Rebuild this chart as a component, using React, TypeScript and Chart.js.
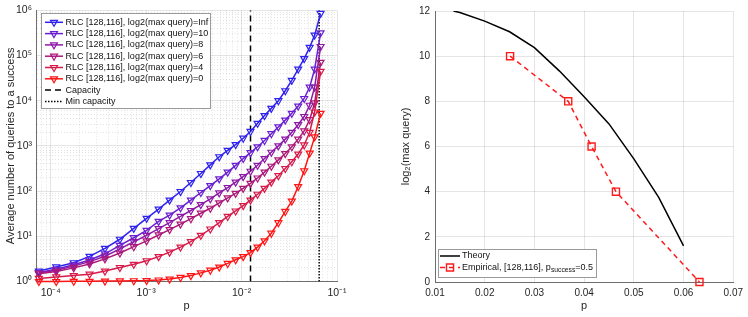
import React, { useEffect, useRef } from 'react';
import { Chart, registerables } from 'chart.js';

Chart.register(...registerables);

const FONT = '"Liberation Sans", Arial, Helvetica, sans-serif';
const TXT = '#262626';
Chart.defaults.font.family = FONT;

// ---------- Left panel data ----------
const P_VALUES = [
  7.5e-5, 1.14e-4, 1.74e-4, 2.55e-4, 3.7e-4, 5.3e-4, 7.41e-4, 1.01e-3, 1.35e-3, 1.76e-3,
  2.29e-3, 2.94e-3, 3.74e-3, 4.7e-3, 5.83e-3, 7.15e-3, 8.66e-3, 1.04e-2, 1.24e-2, 1.47e-2,
  1.74e-2, 2.05e-2, 2.43e-2, 2.87e-2, 3.36e-2, 3.92e-2, 4.53e-2, 5.17e-2, 5.83e-2, 6.73e-2,
];
const QUERY_LABELS = ['Inf', '10', '8', '6', '4', '0'];
const QUERIES_INF = [1.7, 2.1, 2.6, 3.6, 5.4, 8.6, 15, 25, 40, 63, 98, 155, 245, 380, 575, 795, 1070, 1480, 2090, 3160, 4680, 6760, 10000, 16600, 28200, 50100, 85100, 151000, 282000, 851000];
const QUERIES_10 = [1.58, 1.86, 2.34, 3.0, 4.1, 6.3, 9.3, 13.5, 21.4, 29.5, 42.7, 63, 93, 132, 186, 263, 372, 525, 708, 955, 1320, 1860, 2630, 3720, 5250, 7590, 11200, 20000, 50100, 316000];
const QUERIES_8 = [1.55, 1.78, 2.19, 2.75, 3.63, 5.25, 7.59, 10.5, 14.8, 20, 27.5, 37.2, 50.1, 67.6, 91.2, 120, 158, 209, 275, 372, 525, 724, 1000, 1410, 2000, 2950, 4470, 7940, 20000, 158000];
const QUERIES_6 = [1.48, 1.66, 2.0, 2.45, 3.16, 4.27, 5.89, 7.94, 10.7, 14.1, 18.6, 24.5, 32.4, 41.7, 55, 70.8, 89.1, 115, 148, 195, 263, 355, 490, 676, 955, 1410, 2140, 3800, 8910, 70800];
const QUERIES_4 = [1.17, 1.26, 1.35, 1.45, 1.7, 2.04, 2.4, 2.88, 3.55, 4.47, 5.75, 7.59, 10.5, 14.5, 20, 27.5, 36.3, 47.9, 63.1, 85.1, 115, 158, 219, 316, 447, 661, 1050, 2000, 5620, 44700];
const QUERIES_0 = [1.0, 1.0, 1.01, 1.01, 1.02, 1.03, 1.04, 1.05, 1.08, 1.13, 1.23, 1.35, 1.55, 1.78, 2.09, 2.51, 3.02, 3.55, 4.37, 5.75, 7.94, 11.7, 20, 35.5, 60.3, 126, 282, 692, 1580, 5250];
const SERIES_VALUES = [QUERIES_INF, QUERIES_10, QUERIES_8, QUERIES_6, QUERIES_4, QUERIES_0];
const SERIES_COLORS = ['#2f22ee', '#6a1fd0', '#8d1aa6', '#ac1878', '#d81a4a', '#ff1414'];
const CAPACITY_P = 0.0124;
const MIN_CAPACITY_P = 0.065;
const X_MIN = 7.5e-5;
const X_MAX = 0.1;
const Y_MIN = 1;
const Y_MAX = 1e6;

// ---------- Right panel data ----------
const THEORY_P = [0.0137, 0.015, 0.02, 0.025, 0.03, 0.035, 0.04, 0.045, 0.05, 0.055, 0.06];
const THEORY_LOG2Q = [12.0, 11.93, 11.55, 11.08, 10.38, 9.35, 8.2, 7.0, 5.45, 3.75, 1.6];
const EMPIRICAL_P = [0.0251, 0.0368, 0.0415, 0.0464, 0.0632];
const EMPIRICAL_LOG2Q = [10, 8, 6, 4, 0];
const RIGHT_X_TICKS = [0.01, 0.02, 0.03, 0.04, 0.05, 0.06, 0.07];
const RIGHT_Y_TICKS = [0, 2, 4, 6, 8, 10, 12];

// ---------- helpers ----------
const SUP: Record<string, string> = { '-': '⁻', '0': '⁰', '1': '¹', '2': '²', '3': '³', '4': '⁴', '5': '⁵', '6': '⁶', '7': '⁷', '8': '⁸', '9': '⁹' };
const isDecade = (v: number) => Math.abs(Math.log10(v) - Math.round(Math.log10(v))) < 1e-6;
const pow10Label = (v: number) => '10' + String(Math.round(Math.log10(v))).split('').map((c) => SUP[c]).join('');
const logTicks = (min: number, max: number) => {
  const out: { value: number }[] = [];
  for (let e = Math.floor(Math.log10(min)); e <= Math.ceil(Math.log10(max)); e++) {
    for (let m = 1; m < 10; m++) {
      const v = m * Math.pow(10, e);
      if (v >= min * 0.9999 && v <= max * 1.0001) out.push({ value: v });
    }
  }
  return out;
};

const logAxis = (min: number, max: number, title: string, fit: (s: any) => void, pad: number) => ({
  type: 'logarithmic',
  min,
  max,
  afterBuildTicks: (s: any) => { s.ticks = logTicks(min, max); },
  afterFit: fit,
  ticks: {
    autoSkip: false, maxRotation: 0, padding: pad, color: TXT,
    font: { size: 10.5, family: FONT },
    callback: (v: any) => (isDecade(Number(v)) ? pow10Label(Number(v)) : ''),
  },
  grid: {
    drawTicks: false,
    lineWidth: 1,
    color: (c: any) => (c.tick && !isDecade(c.tick.value) ? 'rgba(0,0,0,0.11)' : 'rgba(0,0,0,0.1)'),
  },
  border: {
    color: '#6e6e6e', width: 1,
    dash: (c: any) => (c.tick && !isDecade(c.tick.value) ? [1, 2] : []),
  },
  title: { display: true, text: title, color: TXT, font: { size: 11, family: FONT }, padding: { top: 4, bottom: 4 } },
});

// legend drawn inside the plot area
const drawMarker = (ctx: CanvasRenderingContext2D, style: string, x: number, y: number, r: number) => {
  ctx.beginPath();
  if (style === 'triangle') {
    ctx.moveTo(x, y + r);
    ctx.lineTo(x - r * 0.866, y - r * 0.5);
    ctx.lineTo(x + r * 0.866, y - r * 0.5);
    ctx.closePath();
  } else if (style === 'rect') {
    const s = Math.SQRT1_2 * r;
    ctx.rect(x - s, y - s, 2 * s, 2 * s);
  }
  ctx.stroke();
};

const splitLabel = (label: string) => label.split(/(_\{[^}]*\})/).filter((s) => s.length).map((s) =>
  s.startsWith('_{') ? { text: s.slice(2, -1), sub: true } : { text: s, sub: false });

const boxLegend = {
  id: 'boxLegend',
  afterDatasetsDraw(chart: any, _args: any, o: any) {
    const { ctx, chartArea } = chart;
    const items = chart.data.datasets.filter((d: any) => d.label);
    const fs = o.fontSize;
    const mainFont = `${fs}px ${FONT}`;
    const subFont = `${fs * 0.75}px ${FONT}`;
    ctx.save();
    const width = (label: string) => splitLabel(label).reduce((acc, p) => {
      ctx.font = p.sub ? subFont : mainFont;
      return acc + ctx.measureText(p.text).width;
    }, 0);
    const maxW = Math.max(...items.map((d: any) => width(d.label)));
    const w = Math.round(o.textX + maxW + o.padR);
    const h = Math.round(o.firstRow + o.rowH * (items.length - 1) + o.lastPad);
    const x0 = Math.round(chartArea.left + o.dx);
    const y0 = Math.round(o.anchor === 'top' ? chartArea.top + o.dy : chartArea.bottom - o.dy - h);
    ctx.fillStyle = '#ffffff';
    ctx.fillRect(x0, y0, w, h);
    ctx.strokeStyle = '#9a9a9a';
    ctx.lineWidth = 1;
    ctx.strokeRect(x0 + 0.5, y0 + 0.5, w, h);
    items.forEach((d: any, i: number) => {
      const cy = y0 + o.firstRow + i * o.rowH;
      ctx.save();
      ctx.strokeStyle = d.borderColor;
      ctx.lineWidth = d.borderWidth;
      ctx.setLineDash(d.borderDash || []);
      ctx.beginPath();
      ctx.moveTo(x0 + o.lineX0, cy);
      ctx.lineTo(x0 + o.lineX1, cy);
      ctx.stroke();
      ctx.restore();
      if (d.pointRadius > 0) {
        ctx.save();
        ctx.setLineDash([]);
        ctx.strokeStyle = d.pointBorderColor || d.borderColor;
        ctx.lineWidth = d.pointBorderWidth;
        drawMarker(ctx, d.pointStyle, x0 + o.markerX, cy, d.pointRadius);
        ctx.restore();
      }
      let tx = x0 + o.textX;
      ctx.fillStyle = '#111';
      ctx.textBaseline = 'middle';
      ctx.textAlign = 'left';
      splitLabel(d.label).forEach((p) => {
        ctx.font = p.sub ? subFont : mainFont;
        ctx.fillText(p.text, tx, p.sub ? cy + fs * 0.3 : cy);
        tx += ctx.measureText(p.text).width;
      });
    });
    ctx.restore();
  },
};

const leftConfig = (): any => ({
  type: 'line',
  data: {
    datasets: [
      ...SERIES_VALUES.map((vals, i) => ({
        label: `RLC [128,116], log2(max query)=${QUERY_LABELS[i]}`,
        data: P_VALUES.map((p, j) => ({ x: p, y: vals[j] })),
        borderColor: SERIES_COLORS[i],
        backgroundColor: 'transparent',
        borderWidth: 1.5,
        pointStyle: 'triangle',
        pointRotation: 180,
        pointRadius: 4,
        pointBorderWidth: 1.2,
        pointBorderColor: SERIES_COLORS[i],
        pointBackgroundColor: 'rgba(255,255,255,0)',
        tension: 0,
        clip: false,
        order: SERIES_VALUES.length - i,
      })),
      {
        label: 'Capacity',
        data: [{ x: CAPACITY_P, y: Y_MIN }, { x: CAPACITY_P, y: Y_MAX }],
        borderColor: '#000', borderWidth: 1.5, borderDash: [6, 4], pointRadius: 0, order: 7,
      },
      {
        label: 'Min capacity',
        data: [{ x: MIN_CAPACITY_P, y: Y_MIN }, { x: MIN_CAPACITY_P, y: Y_MAX }],
        borderColor: '#000', borderWidth: 1.5, borderDash: [1.5, 1.5], pointRadius: 0, order: 8,
      },
    ],
  },
  options: {
    animation: false,
    responsive: false,
    events: [],
    layout: { padding: { left: 0, top: 10, right: 37, bottom: 0 } },
    plugins: {
      legend: { display: false },
      tooltip: { enabled: false },
      boxLegend: {
        anchor: 'top', dx: 5, dy: 3, fontSize: 9, firstRow: 9.3, rowH: 11.3, lastPad: 6.3,
        lineX0: 4, lineX1: 22, markerX: 13, textX: 24.5, padR: 2,
      },
    },
    scales: {
      x: logAxis(X_MIN, X_MAX, 'p', (s: any) => { s.height = 35.5; }, 5),
      y: logAxis(Y_MIN, Y_MAX, 'Average number of queries to a success', (s: any) => { s.width = 36; }, 4),
    },
  },
  plugins: [boxLegend],
});

const linAxis = (ticks: number[], fmt: (v: number) => string, title: string, fit: (s: any) => void, pad: number) => ({
  type: 'linear',
  min: ticks[0],
  max: ticks[ticks.length - 1],
  afterBuildTicks: (s: any) => { s.ticks = ticks.map((v) => ({ value: v })); },
  afterFit: fit,
  ticks: { autoSkip: false, maxRotation: 0, padding: pad, color: TXT, font: { size: 10, family: FONT }, callback: (v: any) => fmt(Number(v)) },
  grid: { drawTicks: false, lineWidth: 1, color: 'rgba(0,0,0,0.1)' },
  border: { color: '#6e6e6e', width: 1 },
  title: { display: true, text: title, color: TXT, font: { size: 11, family: FONT }, padding: { top: 4, bottom: 4 } },
});

const rightConfig = (): any => ({
  type: 'line',
  data: {
    datasets: [
      {
        label: 'Theory',
        data: THEORY_P.map((p, i) => ({ x: p, y: THEORY_LOG2Q[i] })),
        borderColor: '#000', borderWidth: 1.5, pointRadius: 0, tension: 0, order: 2,
      },
      {
        label: 'Empirical, [128,116], p_{success}=0.5',
        data: EMPIRICAL_P.map((p, i) => ({ x: p, y: EMPIRICAL_LOG2Q[i] })),
        borderColor: '#ff1a1a', borderWidth: 1.5, borderDash: [5, 4],
        pointStyle: 'rect', pointRadius: 5, pointBorderWidth: 1.4,
        pointBorderColor: '#ff1a1a', pointBackgroundColor: 'rgba(255,255,255,0)',
        tension: 0, clip: false, order: 1,
      },
    ],
  },
  options: {
    animation: false,
    responsive: false,
    events: [],
    layout: { padding: { left: 21, top: 10.5, right: 14.7, bottom: 0 } },
    plugins: {
      legend: { display: false },
      tooltip: { enabled: false },
      boxLegend: {
        anchor: 'bottom', dx: 3, dy: 5, fontSize: 9, firstRow: 7, rowH: 11.5, lastPad: 9.5,
        lineX0: 2, lineX1: 22, markerX: 12, textX: 24, padR: 3,
      },
    },
    scales: {
      x: linAxis(RIGHT_X_TICKS, (v) => v.toFixed(2), 'p', (s: any) => { s.height = 35; }, 5),
      y: linAxis(RIGHT_Y_TICKS, (v) => String(Math.round(v)), 'log₂(max query)', (s: any) => { s.width = 40; }, 5),
    },
  },
  plugins: [boxLegend],
});

export default function App() {
  const leftRef = useRef<HTMLCanvasElement>(null);
  const rightRef = useRef<HTMLCanvasElement>(null);
  useEffect(() => {
    const l = new Chart(leftRef.current as HTMLCanvasElement, leftConfig());
    const r = new Chart(rightRef.current as HTMLCanvasElement, rightConfig());
    return () => { l.destroy(); r.destroy(); };
  }, []);
  return (
    <div style={{ position: 'absolute', left: 0, top: 0, width: 748, height: 317, background: '#fff', overflow: 'hidden' }}>
      <canvas ref={leftRef} width={374} height={317} style={{ position: 'absolute', left: 0, top: 0, width: 374, height: 317 }} />
      <canvas ref={rightRef} width={374} height={317} style={{ position: 'absolute', left: 374, top: 0, width: 374, height: 317 }} />
    </div>
  );
}
